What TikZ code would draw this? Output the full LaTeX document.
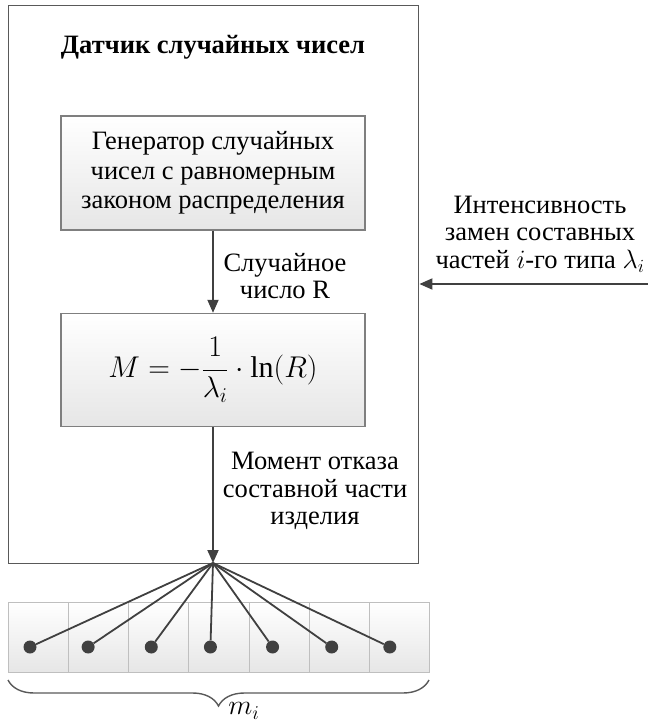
\RequirePackage{fix-cm}
\documentclass[tikz,border=0pt]{standalone}
\usepackage{fontspec}
\setmainfont{Liberation Serif}
\usetikzlibrary{arrows.meta,decorations.pathreplacing}
\definecolor{outerc}{RGB}{89,89,89}
\definecolor{arrc}{RGB}{64,64,64}
\definecolor{boxc}{RGB}{127,127,127}
\definecolor{cellc}{RGB}{191,191,191}
\definecolor{shadec}{RGB}{230,230,230}
\begin{document}
\begin{tikzpicture}[x=1pt,y=-1pt,
  txt/.style={font=\fontsize{26.5}{27.5}\selectfont, align=center, inner sep=0pt},
  ttl/.style={font=\fontsize{26.5}{28}\selectfont\bfseries, inner sep=0pt},
  outerbox/.style={draw=outerc, line width=1.4pt, inner sep=0pt, anchor=north west},
  procbox/.style={draw=boxc, line width=1.4pt, top color=white, bottom color=shadec, inner sep=0pt,
    minimum width=304pt, font=\fontsize{26.5}{29.5}\selectfont, align=center},
  cellbox/.style={draw=cellc, line width=0.9pt, top color=white, bottom color=shadec, inner sep=0pt,
    minimum width=60.14pt, minimum height=70pt, anchor=north west},
  arr/.style={draw=arrc, line width=1.8pt, -{Triangle[length=13pt,width=11pt]}},
  fanline/.style={draw=arrc, line width=1.8pt},
  dotnode/.style={circle, fill=arrc, inner sep=0pt, minimum size=13pt},
  bracestyle/.style={draw=outerc, line width=1.4pt, decorate, decoration={brace, mirror, amplitude=26pt}}
]
\useasboundingbox (0,0) rectangle (648,726);
\node[outerbox, minimum width=410pt, minimum height=558pt] (outer) at (8,5) {};
\node[ttl] (title) at (213,47) {Датчик случайных чисел};
\node[procbox, minimum height=114pt] (gen) at (213,173) {Генератор случайных\\чисел с равномерным\\законом распределения};
\node[procbox, minimum height=113pt] (form) at (213,370) {\fontsize{30}{33}\selectfont$\displaystyle M=-\frac{1}{\lambda_i}\cdot\ln\bigl(R\bigr)$};
\node[txt] (lblR) at (285,276) {Случайное\\число R};
\node[txt] (lblM) at (315,491) {Момент отказа\\составной части\\изделия};
\node[txt] (lblI) at (540,234) {Интенсивность\\замен составных\\частей $i$-го типа $\lambda_i$};
\coordinate (fan) at (213,563);
\coordinate (rin) at (648,284);
\draw[arr] (gen) -- (form);
\draw[arr] (form) -- (fan);
\draw[arr] (rin) -- (rin -| outer.east);
\foreach \i/\dx in {0/22,1/20,2/23,3/22,4/24,5/23,6/21} {
  \node[cellbox] (c\i) at (8+60.14*\i,602) {};
  \node[dotnode] (d\i) at (8+60.14*\i+\dx,647) {};
}
\foreach \i in {0,...,6} { \draw[fanline] (fan) -- (d\i); }
\draw[bracestyle] (8,680) -- (429,680);
\node[font=\fontsize{28}{30}\selectfont, inner sep=0pt] (mi) at (244,711) {$m_i$};
\end{tikzpicture}
\end{document}
